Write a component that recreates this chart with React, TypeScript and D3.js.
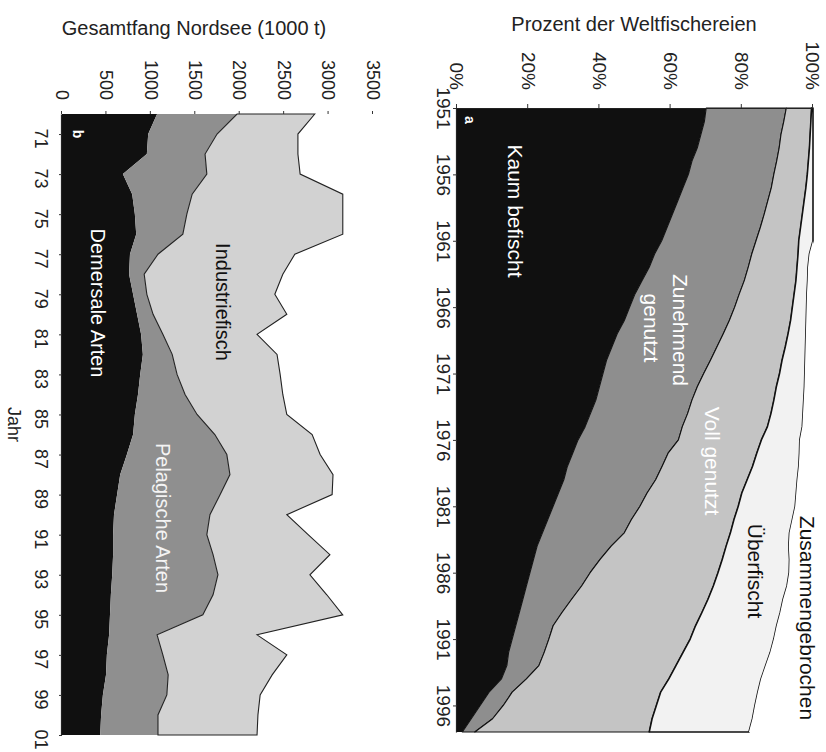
import { useEffect, useRef } from "react"
import * as d3 from "d3"

// Panel a: Weltfischereien (percent of fisheries per development phase)
const yearsA = [
  1951, 1952, 1953, 1954, 1955, 1956, 1957, 1958, 1959, 1960, 1961, 1962, 1963, 1964, 1965, 1966,
  1967, 1968, 1969, 1970, 1971, 1972, 1973, 1974, 1975, 1976, 1977, 1978, 1979, 1980, 1981, 1982,
  1983, 1984, 1985, 1986, 1987, 1988, 1989, 1990, 1991, 1992, 1993, 1994, 1995, 1996, 1997, 1998,
]
const kaum = [
  70, 69.5, 68.5, 67.5, 66, 65, 63.5, 62, 60.5, 59, 57.5, 55.5, 54, 52, 50, 48.5, 47, 45, 43.5, 42, 41, 40,
  39, 37.5, 36, 34, 32.5, 31, 30, 28.5, 27, 25.5, 24, 22.5, 21.5, 20.5, 19.5, 18.5, 17.5, 16.5, 15.5, 14.5,
  14, 12.5, 9, 6.5, 4, 1.5,
]
const zunehmend = [
  22.5, 22.3, 22.5, 23, 23.8, 24, 24.8, 25.3, 25.8, 26.2, 26.5, 27.3, 27.8, 28.7, 29.3, 29.5, 29.5, 29.8,
  29.5, 29.2, 28.3, 27.5, 27, 27.3, 27.3, 28.2, 26.8, 26.6, 25.8, 24.9, 24.4, 23.5, 23, 20.8, 18.7, 16.9,
  15.5, 13.7, 12, 10.5, 10.3, 10, 9, 7, 6.5, 6.5, 6, 3.5,
]
const voll = [
  7.1, 7.6, 8.2, 8.5, 8.9, 9.4, 9.7, 10.2, 10.7, 11.3, 12, 13, 13.7, 14.5, 15.4, 16.2, 17.2, 18.2, 19.2,
  20.1, 21.3, 22.2, 23, 23.4, 23.9, 23.3, 24.9, 25.4, 25.7, 26.6, 27.6, 28.8, 29.8, 32.3, 34.3, 35.9, 37,
  38.3, 39.3, 40, 39.7, 39, 38.5, 40, 41.7, 43, 44.8, 49,
]
const ueberfischt = [
  0.4, 0.6, 0.8, 1, 1.3, 1.6, 2, 2.5, 3, 3.5, 4, 3.2, 3.1, 3.3, 3.6, 4, 4.4, 5, 5.7, 6.5, 7.1, 7.9, 8.4, 9,
  9.8, 10.8, 12, 13, 14.1, 15.3, 16, 16.4, 16.6, 17.6, 18.9, 20, 20.7, 21.1, 22, 22.8, 23.5, 24.5, 25.2,
  25.9, 27.3, 27.7, 28.2, 28,
]
const zusammen = [
  0, 0, 0, 0, 0, 0, 0, 0, 0, 0, 0, 1, 1.4, 1.5, 1.7, 1.8, 1.9, 2, 2.1, 2.2, 2.3, 2.4, 2.6, 2.8, 3, 3.7, 3.8,
  4, 4.4, 4.7, 5, 5.8, 6.6, 6.8, 6.6, 6.7, 7.3, 8.4, 9.2, 10.2, 11, 12, 13.3, 14.6, 15.5, 16.3, 17, 18,
]
const yearTicksA = [1951, 1956, 1961, 1966, 1971, 1976, 1981, 1986, 1991, 1996]
const pctTicks = [0, 20, 40, 60, 80, 100]

// Panel b: Gesamtfang Nordsee (1000 t)
const yearsB = [
  1970, 1971, 1972, 1973, 1974, 1975, 1976, 1977, 1978, 1979, 1980, 1981, 1982, 1983, 1984, 1985, 1986,
  1987, 1988, 1989, 1990, 1991, 1992, 1993, 1994, 1995, 1996, 1997, 1998, 1999, 2000, 2001,
]
const demersal = [
  1070, 970, 955, 685, 790, 820, 835, 765, 755, 800, 845, 890, 910, 880, 855, 820, 800, 730, 655, 620, 585,
  575, 575, 565, 550, 540, 530, 505, 495, 460, 440, 430,
]
const pelagisch = [
  900, 775, 655, 945, 675, 585, 525, 315, 170, 155, 180, 245, 330, 415, 530, 700, 920, 1125, 1235, 1160,
  1080, 1055, 1125, 1190, 1150, 1045, 540, 630, 700, 720, 640, 650,
]
const industrie = [
  875, 910, 1045, 1050, 1695, 1755, 1800, 1540, 1560, 1440, 1505, 1060, 1180, 1160, 1100, 1010, 1095, 1050,
  1160, 1260, 865, 1140, 1315, 1035, 1280, 1575, 1125, 1395, 1170, 1050, 1125, 1115,
]
const yearTicksB = [1971, 1973, 1975, 1977, 1979, 1981, 1983, 1985, 1987, 1989, 1991, 1993, 1995, 1997, 1999, 2001]
const valueTicks = [0, 500, 1000, 1500, 2000, 2500, 3000, 3500]

const FONT = "'Liberation Sans', Arial, Helvetica, sans-serif"

export default function App() {
  const svgRef = useRef<SVGSVGElement>(null)

  useEffect(() => {
    if (!svgRef.current) return
    const root = d3.select(svgRef.current)
    root.selectAll("*").remove()

    // the whole figure is drawn upright and then turned 90° clockwise
    const g = root.append("g").attr("transform", "translate(826,0) rotate(90)").style("font-family", FONT)

    const styleAxis = (sel: any, size: number) => {
      sel.selectAll("path").attr("stroke", "#222").attr("stroke-width", 1.2)
      sel.selectAll("line").attr("stroke", "#333")
      sel.selectAll("text").attr("fill", "#222").style("font-size", `${size}px`).style("font-family", FONT)
    }

    // ---------- panel a ----------
    const xA = d3.scaleLinear().domain([1951, 1998]).range([108, 732])
    const yA = d3.scaleLinear().domain([0, 100]).range([369, 13])

    const rowsA = yearsA.map((year, i) => ({
      year,
      kaum: kaum[i],
      zunehmend: zunehmend[i],
      voll: voll[i],
      ueber: ueberfischt[i],
      zusammen: zusammen[i],
    }))
    const keysA = ["kaum", "zunehmend", "voll", "ueber", "zusammen"]
    const fillA: Record<string, string> = {
      kaum: "#101010",
      zunehmend: "#8e8e8e",
      voll: "#c4c4c4",
      ueber: "#f2f2f2",
      zusammen: "#ffffff",
    }
    const stackA = d3.stack<any>().keys(keysA)(rowsA)
    const areaA = d3
      .area<any>()
      .x((d) => xA(d.data.year))
      .y0((d) => yA(d[0]))
      .y1((d) => yA(d[1]))

    g.append("g")
      .selectAll("path")
      .data(stackA)
      .enter()
      .append("path")
      .attr("d", areaA)
      .attr("fill", (d) => fillA[d.key])
      .attr("stroke", (d) => (d.key === "zusammen" || d.key === "kaum" ? "none" : "#111"))
      .attr("stroke-width", (d) => (d.key === "ueber" ? 1.6 : 1.1))
      .attr("stroke-linejoin", "round")

    const axYearA = g
      .append("g")
      .attr("transform", `translate(0,${yA(0)})`)
      .call(
        d3
          .axisBottom(xA)
          .tickValues(yearTicksA)
          .tickFormat((d) => String(d))
          .tickSize(4)
          .tickSizeOuter(0)
          .tickPadding(3)
      )
    styleAxis(axYearA, 19)

    const axPct = g
      .append("g")
      .attr("transform", `translate(${xA(1951)},0)`)
      .call(
        d3
          .axisLeft(yA)
          .tickValues(pctTicks)
          .tickFormat((d) => `${d}%`)
          .tickSize(4)
          .tickSizeOuter(0)
          .tickPadding(14)
      )
    styleAxis(axPct, 19)

    g.append("text")
      .attr("transform", `translate(31,${(yA(0) + yA(100)) / 2 + 1}) rotate(-90)`)
      .attr("text-anchor", "middle")
      .style("font-size", "20px")
      .attr("fill", "#222")
      .text("Prozent der Weltfischereien")

    const labA = g.append("g").style("font-size", "21px").attr("text-anchor", "middle")
    labA.append("text").attr("x", 211).attr("y", 311).attr("dy", "0.35em").attr("fill", "#fff").text("Kaum befischt")
    labA.append("text").attr("x", 330).attr("y", 146).attr("dy", "0.35em").attr("fill", "#fff").text("Zunehmend")
    labA.append("text").attr("x", 328).attr("y", 175).attr("dy", "0.35em").attr("fill", "#fff").text("genutzt")
    labA.append("text").attr("x", 461).attr("y", 114).attr("dy", "0.35em").attr("fill", "#fff").text("Voll genutzt")
    labA.append("text").attr("x", 571).attr("y", 71).attr("dy", "0.35em").attr("fill", "#111").text("Überfischt")
    labA.append("text").attr("x", 618).attr("y", 19).attr("dy", "0.35em").attr("fill", "#111").text("Zusammengebrochen")
    g.append("text")
      .attr("x", 120)
      .attr("y", 356)
      .attr("dy", "0.35em")
      .attr("text-anchor", "middle")
      .attr("fill", "#fff")
      .style("font-size", "14px")
      .style("font-weight", "bold")
      .text("a")

    // ---------- panel b ----------
    const xB = d3.scaleLinear().domain([1970, 2001]).range([114, 735])
    const yB = d3.scaleLinear().domain([0, 3500]).range([764, 453])

    const rowsB = yearsB.map((year, i) => ({
      year,
      demersal: demersal[i],
      pelagisch: pelagisch[i],
      industrie: industrie[i],
    }))
    const keysB = ["demersal", "pelagisch", "industrie"]
    const fillB: Record<string, string> = { demersal: "#101010", pelagisch: "#8f8f8f", industrie: "#d2d2d2" }
    const stackB = d3.stack<any>().keys(keysB)(rowsB)
    const areaB = d3
      .area<any>()
      .x((d) => xB(d.data.year))
      .y0((d) => yB(d[0]))
      .y1((d) => yB(d[1]))

    g.append("g")
      .selectAll("path")
      .data(stackB)
      .enter()
      .append("path")
      .attr("d", areaB)
      .attr("fill", (d) => fillB[d.key])
      .attr("stroke", (d) => (d.key === "industrie" ? "#222" : "none"))
      .attr("stroke-width", 1.1)

    const axYearB = g
      .append("g")
      .attr("transform", `translate(0,${yB(0)})`)
      .call(
        d3
          .axisBottom(xB)
          .tickValues(yearTicksB)
          .tickFormat((d) => String(d).slice(2))
          .tickSize(3)
          .tickSizeOuter(0)
          .tickPadding(11)
      )
    styleAxis(axYearB, 18)
    axYearB.selectAll("text").attr("dx", 4)

    const axVal = g
      .append("g")
      .attr("transform", `translate(${xB(1970)},0)`)
      .call(
        d3
          .axisLeft(yB)
          .tickValues(valueTicks)
          .tickFormat(d3.format("d"))
          .tickSize(3)
          .tickSizeOuter(0)
          .tickPadding(11)
      )
    styleAxis(axVal, 18)
    axVal.select("path").attr("stroke", "none")

    g.append("text")
      .attr("transform", `translate(35,632) rotate(-90)`)
      .attr("text-anchor", "middle")
      .style("font-size", "20px")
      .attr("fill", "#222")
      .text("Gesamtfang Nordsee (1000 t)")

    g.append("text")
      .attr("x", (xB(1970) + xB(2001)) / 2)
      .attr("y", 812)
      .attr("dy", "0.35em")
      .attr("text-anchor", "middle")
      .style("font-size", "18px")
      .attr("fill", "#222")
      .text("Jahr")

    const labB = g.append("g").style("font-size", "20px").attr("text-anchor", "middle")
    labB.append("text").attr("x", 303).attr("y", 728).attr("dy", "0.35em").attr("fill", "#fff").text("Demersale Arten")
    labB.append("text").attr("x", 302).attr("y", 603).attr("dy", "0.35em").attr("fill", "#111").text("Industriefisch")
    labB.append("text").attr("x", 518).attr("y", 663).attr("dy", "0.35em").attr("fill", "#f4f4f4").text("Pelagische Arten")
    g.append("text")
      .attr("x", 134)
      .attr("y", 748)
      .attr("dy", "0.35em")
      .attr("text-anchor", "middle")
      .attr("fill", "#fff")
      .style("font-size", "14px")
      .style("font-weight", "bold")
      .text("b")
  }, [])

  return (
    <svg
      ref={svgRef}
      width={826}
      height={752}
      style={{ position: "absolute", left: 0, top: 0, background: "#fff" }}
    ></svg>
  )
}
